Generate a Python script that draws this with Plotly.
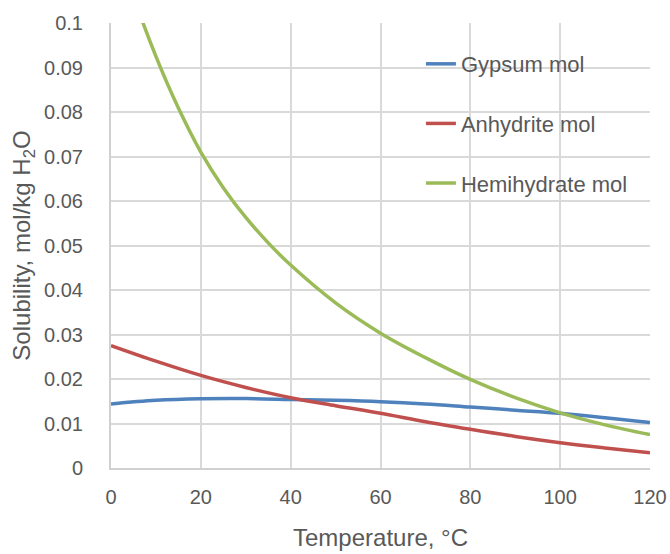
import plotly.graph_objects as go

temps = [0, 10, 20, 30, 40, 50, 60, 70, 80, 90, 100, 110, 120]
gypsum = [0.0144, 0.0152, 0.01555, 0.0156, 0.0154, 0.0152, 0.0149, 0.0144, 0.0137, 0.0130, 0.0123, 0.0113, 0.0102]
anhydrite = [0.0275, 0.0240, 0.0208, 0.0181, 0.0158, 0.0140, 0.0123, 0.0104, 0.0087, 0.0071, 0.0057, 0.0045, 0.0034]

hemi_temps = [0, 5, 10, 15, 20, 25, 30, 35, 40, 50, 60, 70, 80, 90, 100, 110, 120]
hemihydrate = [0.1216, 0.1060, 0.0925, 0.0809, 0.0710, 0.0630, 0.0563, 0.0506, 0.0456, 0.0371, 0.0303, 0.0248, 0.0199, 0.0158, 0.0124, 0.0097, 0.0075]

series_names = ["Gypsum mol", "Anhydrite mol", "Hemihydrate mol"]
series_x = [temps, temps, hemi_temps]
series_vals = [gypsum, anhydrite, hemihydrate]
colors = ["#4f81bd", "#c0504d", "#9bbb59"]

y_ticks = [0, 0.01, 0.02, 0.03, 0.04, 0.05, 0.06, 0.07, 0.08, 0.09, 0.1]
y_ticktext = ["0", "0.01", "0.02", "0.03", "0.04", "0.05", "0.06", "0.07", "0.08", "0.09", "0.1"]
x_ticks = [0, 20, 40, 60, 80, 100, 120]

fig = go.Figure()
for name, xs, vals, c in zip(series_names, series_x, series_vals, colors):
    fig.add_trace(go.Scatter(
        x=xs, y=vals, name=name, mode="lines",
        line=dict(color=c, width=3.5, shape="spline", smoothing=1.0),
        legendgroup=name,
    ))

font_family = "Liberation Sans, Arial, sans-serif"
text_color = "#595959"

fig.update_layout(
    width=670, height=554,
    margin=dict(l=111, r=20, t=23, b=86, autoexpand=False),
    paper_bgcolor="white", plot_bgcolor="white",
    font=dict(family=font_family, color=text_color, size=20),
    showlegend=True,
    legend=dict(
        x=0.575, y=0.955, xanchor="left", yanchor="top",
        bgcolor="rgba(0,0,0,0)", borderwidth=0,
        font=dict(size=22, color=text_color, family=font_family),
        traceorder="grouped", tracegroupgap=28,
    ),
    xaxis=dict(
        range=[0, 120], tickvals=x_ticks, ticks="",
        showgrid=True, gridcolor="#d9d9d9", gridwidth=1.5,
        showline=True, linecolor="#d0d0d0", linewidth=2,
        zeroline=False, automargin=False,
        tickfont=dict(size=20, color=text_color),
        title=dict(text="Temperature, °C", font=dict(size=24, color=text_color), standoff=22),
        ticklabelstandoff=10,
    ),
    yaxis=dict(
        range=[0, 0.1], tickvals=y_ticks, ticktext=y_ticktext, ticks="",
        showgrid=True, gridcolor="#d9d9d9", gridwidth=1.5,
        showline=True, linecolor="#d0d0d0", linewidth=2,
        zeroline=False, automargin=False,
        tickfont=dict(size=20, color=text_color),
        title=dict(text="Solubility, mol/kg H<sub>2</sub>O", font=dict(size=24, color=text_color), standoff=7),
        ticklabelstandoff=22,
    ),
)

fig.write_html("out.html")
